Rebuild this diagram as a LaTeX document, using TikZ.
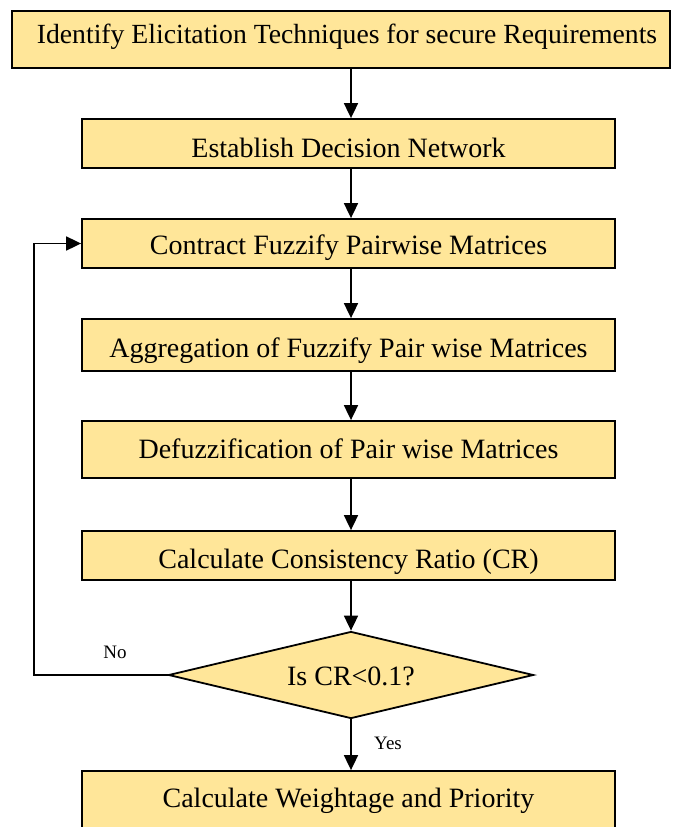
\documentclass[tikz,border=0pt]{standalone}
\usepackage{fontspec}
\setmainfont{Liberation Serif}
\usetikzlibrary{arrows.meta,shapes.geometric}
\definecolor{boxfill}{RGB}{255,230,153}
\tikzset{
  stepbox/.style={draw=black, line width=1.8pt, fill=boxfill, rectangle,
    inner sep=0pt, minimum width=533pt, minimum height=48pt,
    text height=22pt, text depth=0pt,
    font=\fontsize{28}{32}\selectfont},
  decide/.style={draw=black, line width=1.8pt, fill=boxfill, diamond,
    shape aspect=4.2, inner sep=0pt, minimum width=365pt, minimum height=87pt,
    text height=20pt, text depth=0pt,
    font=\fontsize{28}{32}\selectfont},
  flow/.style={line width=1.8pt, -{Triangle[length=15pt,width=14pt]}},
  tag/.style={font=\fontsize{19}{22}\selectfont, inner sep=0pt}
}
\begin{document}
\begin{tikzpicture}[x=1pt,y=-1pt]
\useasboundingbox (0,0) rectangle (673,827);
\fill[white] (0,0) rectangle (673,827);

\node[stepbox, minimum width=658pt, minimum height=57pt, text height=8pt,
      font=\fontsize{27.7}{32}\selectfont] (b1) at (341,39.5)
  {\hspace*{12pt}Identify Elicitation Techniques for secure Requirements};
\node[stepbox, minimum height=49pt, text height=27pt] (b2) at (348.5,143.5) {Establish Decision Network};
\node[stepbox, minimum height=49pt] (b3) at (348.5,243.5) {Contract Fuzzify Pairwise Matrices};
\node[stepbox, minimum height=52pt, text height=24pt] (b4) at (348.5,345) {Aggregation of Fuzzify Pair wise Matrices};
\node[stepbox, minimum height=57pt, text height=17pt] (b5) at (348.5,449.5) {Defuzzification of Pair wise Matrices};
\node[stepbox, minimum height=49pt, text height=25pt] (b6) at (348.5,555.5) {Calculate Consistency Ratio (CR)};
\node[decide] (d) at (351,675) {Is CR<0.1?};
\node[stepbox, minimum height=72pt, text height=0pt] (b7) at (348.5,807)
  {Calculate Weightage and Priority};

\coordinate (loopb) at (34,675);
\coordinate (loopt) at (34,243.5);

\draw[flow] (b1.south -| d.north) -- (b2.north -| d.north);
\draw[flow] (b2.south -| d.north) -- (b3.north -| d.north);
\draw[flow] (b3.south -| d.north) -- (b4.north -| d.north);
\draw[flow] (b4.south -| d.north) -- (b5.north -| d.north);
\draw[flow] (b5.south -| d.north) -- (b6.north -| d.north);
\draw[flow] (b6.south -| d.north) -- (d.north);
\draw[flow] (d.south) -- (d.south |- b7.north);
\draw[flow] (d.west) -- (loopb) -- (loopt) -- (b3.west);

\node[tag] (no) at (115,652) {No};
\node[tag] (yes) at (388,743) {Yes};
\end{tikzpicture}
\end{document}
